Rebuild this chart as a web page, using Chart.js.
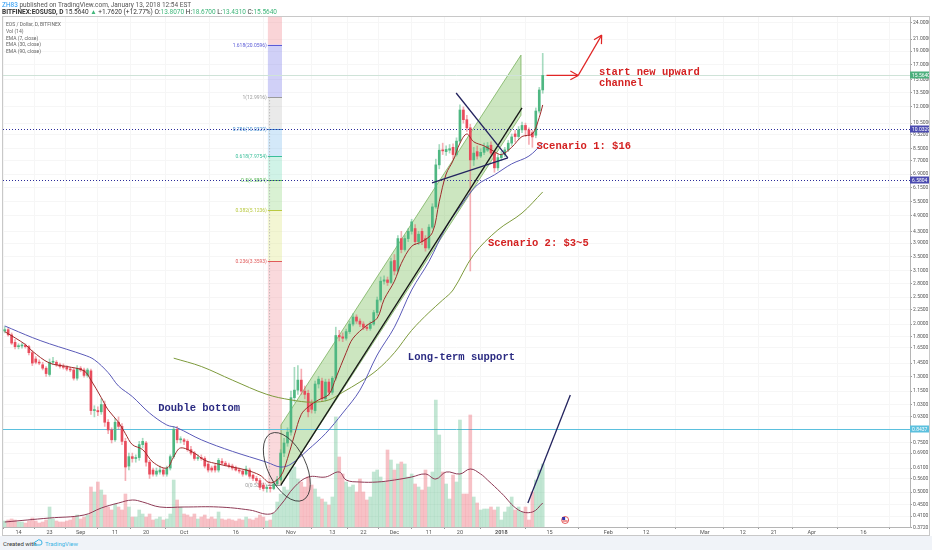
<!DOCTYPE html>
<html>
<head>
<meta charset="utf-8">
<title>EOS / Dollar</title>
<script src="https://cdn.jsdelivr.net/npm/chart.js@4.4.1/dist/chart.umd.min.js"></script>
<style>
  body { margin: 0; background: #fff; }
  #wrap { position: relative; width: 932px; height: 550px; overflow: hidden; font-family: Roboto, "Open Sans", Arial, sans-serif; }
  #myChart { position: absolute; left: 0; top: 0; }
  .t { position: absolute; white-space: nowrap; }
  #pub { left: 2px; top: 1px; font-size: 6.5px; color: #555; }
  #pub span { color: #2196f3; }
  #sym { left: 2px; top: 8px; font-size: 6.5px; color: #333; }
  #sym .g { color: #3fb67a; }
  #legend { left: 6px; top: 21px; font-size: 5px; line-height: 6.8px; color: #666; }
  #foot { left: 0; top: 536px; width: 932px; height: 14px; background: #f0f3f8; }
  #foot .a { position: absolute; left: 3px; top: 4px; font-size: 6px; color: #333; }
  #foot .b { position: absolute; left: 45px; top: 4px; font-size: 6px; color: #3bb3e4; }
  #foot svg { position: absolute; left: 33px; top: 3px; }
</style>
</head>
<body>
<div id="wrap">
  <canvas id="myChart" width="932" height="550"></canvas>
  <div class="t" id="pub"><span>ZH83</span> published on TradingView.com, January 13, 2018 12:54 EST</div>
  <div class="t" id="sym"><b>BITFINEX:EOSUSD, D</b> 15.5640 <span class="g">&#9650;</span> +1.7620 (+12.77%) O:<span class="g">13.8070</span> H:<span class="g">18.6700</span> L:<span class="g">13.4310</span> C:<span class="g">15.5640</span></div>
  <div class="t" id="legend">EOS / Dollar, D, BITFINEX<br>Vol (14)<br>EMA (7, close)<br>EMA (30, close)<br>EMA (90, close)</div>
  <div class="t" id="foot">
    <span class="a">Created with</span>
    <svg width="10" height="8" viewBox="0 0 10 8"><path d="M1 6 Q1 2 4 2 Q5 0 7 1 Q9 1 9 4 Q9 6 7 6 Z" fill="none" stroke="#3bb3e4" stroke-width="1"/></svg>
    <span class="b">TradingView</span>
  </div>
</div>
<script>
//datos de velas (diario, desde 2017-08-10)
const opens = [
  1.89,1.91,1.83,1.72,1.66,1.67,1.68,1.66,1.58,1.50,
  1.46,1.43,1.39,1.32,1.46,1.46,1.43,1.41,1.40,1.38,
  1.37,1.28,1.39,1.37,1.31,1.36,0.98,0.98,0.97,1.03,
  0.89,0.835,0.77,0.89,0.86,0.76,0.62,0.67,0.66,0.665,
  0.74,0.75,0.64,0.60,0.58,0.59,0.60,0.58,0.61,0.67,
  0.84,0.77,0.77,0.76,0.71,0.69,0.66,0.665,0.66,0.63,
  0.61,0.62,0.60,0.645,0.635,0.625,0.62,0.61,0.60,0.595,
  0.58,0.60,0.575,0.56,0.55,0.53,0.515,0.52,0.515,0.535,
  0.555,0.69,0.75,0.82,1.09,1.16,1.26,1.15,1.13,1.04,
  0.98,1.22,1.25,1.08,1.24,1.14,1.28,1.82,1.80,1.78,
  1.88,2.00,2.12,2.05,2.00,1.95,1.93,2.00,2.20,2.44,
  2.85,2.88,2.82,3.38,3.10,4.05,3.70,4.05,4.30,4.40,
  3.95,4.30,4.05,3.75,4.45,5.26,7.44,8.40,8.30,8.40,
  8.60,8.10,9.05,11.70,10.80,10.10,7.75,8.30,8.00,8.25,
  8.40,8.75,8.22,7.26,7.90,8.10,8.42,8.90,9.60,9.40,
  9.93,10.30,9.93,9.70,9.50,11.60,13.807
];
const highs = [
  1.96,1.94,1.86,1.76,1.70,1.71,1.70,1.68,1.61,1.53,
  1.49,1.46,1.41,1.50,1.52,1.48,1.45,1.44,1.42,1.40,
  1.39,1.42,1.41,1.39,1.39,1.38,1.02,1.01,1.08,1.06,
  0.91,0.85,0.92,0.93,0.88,0.78,0.69,0.69,0.68,0.76,
  0.78,0.76,0.65,0.61,0.61,0.62,0.61,0.62,0.68,0.86,
  0.86,0.79,0.78,0.77,0.73,0.70,0.68,0.68,0.67,0.64,
  0.62,0.63,0.66,0.66,0.645,0.635,0.63,0.62,0.61,0.60,
  0.62,0.61,0.58,0.57,0.56,0.54,0.53,0.53,0.545,0.57,
  0.71,0.78,0.85,1.15,1.40,1.42,1.38,1.20,1.16,1.07,
  1.25,1.30,1.28,1.27,1.27,1.30,1.95,1.90,1.86,1.92,
  2.05,2.18,2.16,2.09,2.04,1.99,2.04,2.24,2.50,2.95,
  2.98,2.95,3.45,3.55,4.15,4.30,4.15,4.40,4.75,4.55,
  4.30,4.40,4.15,4.55,5.40,7.80,8.80,8.90,8.70,8.80,
  8.85,9.30,12.20,12.00,11.20,10.40,8.60,8.70,8.50,8.90,
  8.95,9.00,8.40,8.10,8.30,8.60,9.10,9.60,9.90,10.20,
  10.60,10.50,10.10,9.90,11.90,14.10,18.67
];
const lows = [
  1.86,1.81,1.69,1.63,1.63,1.64,1.64,1.55,1.42,1.44,
  1.43,1.37,1.30,1.30,1.43,1.41,1.39,1.38,1.36,1.35,
  1.26,1.26,1.35,1.29,1.29,0.95,0.93,0.94,0.95,0.86,
  0.81,0.75,0.76,0.84,0.74,0.55,0.60,0.64,0.64,0.65,
  0.72,0.62,0.56,0.57,0.57,0.58,0.57,0.57,0.60,0.66,
  0.75,0.75,0.74,0.70,0.68,0.65,0.65,0.65,0.61,0.59,
  0.59,0.59,0.59,0.63,0.62,0.61,0.60,0.595,0.585,0.57,
  0.575,0.56,0.55,0.54,0.51,0.505,0.50,0.50,0.51,0.53,
  0.55,0.67,0.73,0.80,1.05,1.12,1.12,1.08,0.93,0.96,
  0.96,1.18,1.06,1.06,1.11,1.12,1.26,1.74,1.73,1.75,
  1.85,1.97,2.01,1.96,1.91,1.90,1.90,1.98,2.15,2.40,
  2.78,2.75,2.80,3.00,3.05,3.60,3.65,3.95,4.20,3.85,
  3.85,3.85,3.65,3.70,4.40,5.20,7.20,8.10,8.05,8.20,
  7.80,8.00,8.90,10.50,9.80,3.10,7.40,7.80,7.90,8.10,
  8.30,8.10,7.00,7.10,7.70,7.95,8.30,8.70,9.00,9.20,
  9.70,9.40,8.80,8.60,9.30,11.40,13.431
];
const closes = [
  1.91,1.83,1.71,1.66,1.67,1.68,1.66,1.58,1.45,1.46,
  1.45,1.39,1.33,1.46,1.47,1.43,1.41,1.40,1.38,1.37,
  1.28,1.39,1.37,1.31,1.37,0.98,0.98,0.97,1.03,0.89,
  0.835,0.77,0.89,0.86,0.76,0.615,0.67,0.66,0.665,0.74,
  0.76,0.64,0.58,0.58,0.595,0.60,0.58,0.61,0.67,0.84,
  0.77,0.77,0.76,0.71,0.69,0.66,0.665,0.66,0.62,0.60,
  0.60,0.60,0.65,0.635,0.625,0.62,0.61,0.60,0.595,0.58,
  0.605,0.57,0.56,0.55,0.52,0.515,0.52,0.515,0.535,0.555,
  0.69,0.75,0.82,1.09,1.16,1.26,1.15,1.12,0.97,0.99,
  1.22,1.27,1.08,1.24,1.14,1.28,1.82,1.80,1.78,1.88,
  2.00,2.12,2.05,2.00,1.95,1.93,2.00,2.20,2.44,2.85,
  2.88,2.82,3.35,3.10,4.05,3.70,4.05,4.30,4.65,3.95,
  4.20,3.95,3.75,4.45,5.26,7.44,8.40,8.35,8.45,8.50,
  8.10,9.05,11.70,10.80,10.10,7.75,8.20,8.00,8.25,8.60,
  8.70,8.20,7.26,7.90,8.10,8.42,8.90,9.37,9.40,9.93,
  10.30,9.93,9.53,9.37,11.60,13.802,15.564
];
//volumen (100k EOS)
const volumes = [
  6,7,8,7,5,5,4,6,9,6,
  4,5,7,20,8,6,5,5,6,7,
  10,12,8,10,12,40,35,45,37,32,
  20,17,23,20,17,33,20,10,10,17,
  13,10,13,7,8,10,7,8,13,47,
  27,20,13,12,10,13,8,10,12,8,
  10,8,15,8,7,8,7,6,8,7,
  10,8,7,9,12,10,6,7,14,25,
  33,40,37,57,60,48,45,40,50,42,
  38,30,28,25,22,30,110,70,53,45,
  40,42,35,48,35,27,30,55,57,50,
  45,77,67,57,63,65,63,50,53,43,
  40,37,57,40,55,127,92,55,43,28,
  52,45,107,33,33,112,30,24,17,18,
  18,20,17,20,7,15,20,30,17,20,
  15,20,7,35,47,57,63
];
//indicadores (dia, valor)
const ema7Days = [0,6,8,13,18,23,25,28,30,33,35,37,40,43,47,49,51,55,58,62,66,70,74,77,80,82,84,86,88,91,94,96,99,101,105,108,110,113,115,118,121,124,126,128,130,132,134,136,139,142,144,147,150,153,155,156];
const ema7Vals = [1.88,1.69,1.60,1.45,1.41,1.36,1.26,1.09,0.985,0.89,0.81,0.74,0.71,0.64,0.61,0.67,0.72,0.69,0.65,0.63,0.615,0.60,0.575,0.54,0.57,0.66,0.80,0.95,1.01,1.07,1.12,1.28,1.58,1.78,1.98,2.10,2.45,2.85,3.30,3.80,3.95,4.25,5.50,6.90,7.70,8.90,9.60,9.00,8.70,8.30,8.10,8.60,9.40,9.60,11.00,12.20];
const ema30Days = [0,8,13,23,26,30,33,37,42,47,50,57,66,76,80,83,88,93,98,103,108,113,118,123,128,132,137,142,147,152,156];
const ema30Vals = [1.97,1.79,1.70,1.55,1.49,1.34,1.20,1.10,0.96,0.87,0.85,0.77,0.70,0.64,0.615,0.63,0.71,0.81,0.96,1.16,1.55,1.95,2.65,3.35,4.45,5.26,6.30,6.85,7.50,8.00,8.90];
const ema90Days = [49,57,66,76,83,89,94,98,103,108,113,118,123,127,130,136,143,150,156];
const ema90Vals = [1.51,1.41,1.26,1.12,1.07,1.05,1.07,1.14,1.24,1.37,1.58,1.90,2.20,2.44,2.65,3.55,4.35,5.00,5.95];
const volMaDays = [0,13,23,28,33,37,40,45,52,62,71,77,80,84,88,93,97,99,103,108,113,118,122,125,128,132,135,138,140,144,149,153,156];
const volMaVals = [5,9,12,19,24,27,25,20,20,20,17,13,22,40,50,50,55,47,45,45,47,50,53,48,55,53,58,53,47,34,17,15,24];

//ejes
const priceTicks = [24,21,19,17,15,13.5,12,10.5,9.52,8.5,7.7,6.9,6.15,5.5,4.9,4.3,3.9,3.5,3.1,2.8,2.5,2.25,2.0,1.8,1.65,1.45,1.3,1.15,1.03,0.93,0.75,0.69,0.61,0.56,0.5,0.45,0.41,0.372];
const tickDates = ['2017-08-14','2017-08-23','2017-09-01','2017-09-11','2017-09-20','2017-10-01','2017-10-16','2017-11-01','2017-11-13','2017-11-22','2017-12-01','2017-12-11','2017-12-20','2018-01-01','2018-01-15','2018-02-01','2018-02-12','2018-03-01','2018-03-12','2018-03-21','2018-04-01','2018-04-16'];
const tickNames = ['14','23','Sep','11','20','Oct','16','Nov','13','22','Dec','11','20','2018','15','Feb','12','Mar','12','21','Apr','16'];

//fibonacci
const fibNames = ['1.618','1','0.786','0.618','0.5','0.382','0.236','0'];
const fibPrices = [20.0596,12.9916,10.0329,7.9754,6.5804,5.1236,3.3593,0.5301];
const fibLine = ['#5b5bd6','#9a9a9a','#4a90d0','#3bbf9a','#5cb85c','#b9c940','#e05a5a','#9a9a9a'];
const fibFill = ['rgba(240,120,130,0.32)','rgba(110,110,230,0.32)','rgba(170,170,170,0.25)','rgba(110,180,235,0.3)','rgba(100,215,175,0.3)','rgba(130,210,110,0.3)','rgba(215,225,110,0.3)','rgba(240,130,140,0.3)'];

const labels = [];
const day0 = Date.UTC(2017, 7, 10);
for (let i = 0; i < 263; i++) labels.push(new Date(day0 + i * 86400000).toISOString().slice(0, 10));
const tickIdx = tickDates.map(d => labels.indexOf(d));

const red = '#d42222', navy = '#2b2b82';
const isUp = closes.map((c, i) => c >= opens[i]);
const pts = (days, vals) => days.map((d, i) => ({ x: labels[d], y: vals[i] }));

const line = (c, x1, y1, x2, y2) => { c.beginPath(); c.moveTo(x1, y1); c.lineTo(x2, y2); c.stroke(); };
const head = (c, x1, y1, x2, y2, len) => {
  const a = Math.atan2(y2 - y1, x2 - x1);
  line(c, x2, y2, x2 - len * Math.cos(a - 0.5), y2 - len * Math.sin(a - 0.5));
  line(c, x2, y2, x2 - len * Math.cos(a + 0.5), y2 - len * Math.sin(a + 0.5));
};

const overlay = {
  id: 'overlay',
  beforeDatasetsDraw(chart) {
    const { ctx: c, chartArea: a, scales: { x, y } } = chart;
    c.save();
    c.beginPath(); c.rect(a.left, a.top, a.width, a.height); c.clip();
    //banda fib
    const f1 = x.getPixelForValue(76.3), f2 = x.getPixelForValue(80.4);
    let prev = a.top;
    fibPrices.forEach((p, i) => {
      const yy = y.getPixelForValue(p);
      c.fillStyle = fibFill[i];
      c.fillRect(f1, prev, f2 - f1, yy - prev);
      prev = yy;
    });
    c.font = '5px Roboto';
    c.textAlign = 'right'; c.textBaseline = 'middle';
    fibPrices.forEach((p, i) => {
      const yy = Math.round(y.getPixelForValue(p)) + 0.5;
      c.strokeStyle = fibLine[i]; c.lineWidth = 1;
      line(c, f1, yy, f2, yy);
      c.fillStyle = fibLine[i];
      c.fillText(fibNames[i] + '(' + p.toFixed(4) + ')', f1 - 1, yy);
    });
    c.strokeStyle = '#aaa'; c.setLineDash([1, 2]);
    const fx = x.getPixelForValue(76.8);
    line(c, fx, y.getPixelForValue(fibPrices[1]), fx, y.getPixelForValue(fibPrices[7]));
    c.setLineDash([]);
    //canal
    const cx1 = x.getPixelForValue(80.1), cx2 = x.getPixelForValue(149.7);
    c.beginPath();
    c.moveTo(cx1, y.getPixelForValue(0.870));
    c.lineTo(cx2, y.getPixelForValue(18.4));
    c.lineTo(cx2, y.getPixelForValue(11.2));
    c.lineTo(cx1, y.getPixelForValue(0.531));
    c.closePath();
    c.fillStyle = 'rgba(120,190,90,0.38)'; c.fill();
    c.strokeStyle = 'rgba(110,170,80,0.7)'; c.lineWidth = 1; c.stroke();
    //lineas horizontales
    const hl = (p, col, dash) => {
      const yy = Math.round(y.getPixelForValue(p)) + 0.5;
      c.strokeStyle = col; c.setLineDash(dash); line(c, a.left, yy, a.right, yy); c.setLineDash([]);
    };
    hl(15.564, '#cfe3d8', []);
    hl(10.0329, '#2b2b9a', [1, 2]);
    hl(6.5804, '#2b2b9a', [1, 2]);
    hl(0.8437, '#5bc0de', []);
    c.restore();
  },
  afterDatasetsDraw(chart) {
    const { ctx: c, chartArea: a, scales: { x, y, yv } } = chart;
    const X = d => x.getPixelForValue(d), Y = p => y.getPixelForValue(p);
    c.save();
    c.beginPath(); c.rect(a.left, a.top, a.width, a.height); c.clip();
    c.lineWidth = 1.3;
    c.strokeStyle = '#151515';
    line(c, X(80.1), Y(0.531), X(150), Y(11.9));
    c.strokeStyle = '#23235e';
    line(c, X(130.9), Y(13.46), X(145.9), Y(7.88));
    line(c, X(123.9), Y(6.41), X(145.9), Y(7.88));
    line(c, X(151.7), yv.getPixelForValue(24), X(164), yv.getPixelForValue(132));
    //elipse doble suelo
    c.lineWidth = 0.9; c.strokeStyle = '#333';
    c.beginPath();
    c.ellipse(X(81.8), Y(0.616), 19, 37, -0.45, 0, Math.PI * 2);
    c.stroke();
    //flechas
    c.strokeStyle = '#e02525'; c.lineWidth = 1.2;
    const ax0 = X(157.1), ax1 = X(166.3), ay = Y(15.564), ax2 = X(173.1), ay2 = Y(21.7);
    line(c, ax0, ay, ax1, ay); head(c, ax0, ay, ax1, ay, 9);
    line(c, ax1, ay, ax2, ay2); head(c, ax1, ay, ax2, ay2, 9);
    //textos
    c.font = 'bold 10.5px "Liberation Mono"';
    c.textAlign = 'left'; c.textBaseline = 'middle';
    const txt = (s, d, p, col) => { c.fillStyle = col; c.fillText(s, X(d), Y(p)); };
    txt('start new upward', 172.3, 15.97, red);
    txt('channel', 172.3, 14.6, red);
    txt('Scenario 1: $16', 154.2, 8.64, red);
    txt('Scenario 2: $3~5', 140.1, 3.90, red);
    txt('Long-term support', 116.9, 1.52, navy);
    txt('Double bottom', 44.5, 1.0, navy);
    c.restore();
  },
  afterDraw(chart) {
    const { ctx: c, chartArea: a, scales: { x, y } } = chart;
    c.save();
    const tag = (p, s, bg) => {
      const yy = Math.round(y.getPixelForValue(p));
      c.fillStyle = bg; c.fillRect(a.right, yy - 3.5, 19, 7);
      c.fillStyle = '#fff'; c.font = '5px Roboto'; c.textBaseline = 'middle'; c.textAlign = 'left';
      c.fillText(s, a.right + 2, yy + 0.5);
    };
    tag(15.564, '15.5640', '#4caf7d');
    tag(10.0329, '10.0329', '#4b4bb0');
    tag(6.5804, '6.5804', '#4b4bb0');
    tag(0.8437, '0.8437', '#5bc0de');
    //icono evento
    const ix = x.getPixelForValue(162.5), iy = a.bottom - 7;
    c.beginPath(); c.arc(ix, iy, 3.5, 0, Math.PI * 2); c.fillStyle = '#fff'; c.fill();
    c.strokeStyle = '#d33'; c.lineWidth = 0.8; c.stroke();
    c.fillStyle = '#33a'; c.fillRect(ix - 3, iy - 3, 3, 3);
    c.fillStyle = '#d33'; c.fillRect(ix - 2.5, iy + 0.5, 5, 1);
    //marco
    c.strokeStyle = '#c8c8c8'; c.lineWidth = 1;
    c.strokeRect(2.5, 16.5, 927, 519);
    c.restore();
  }
};

const ctx = document.getElementById('myChart');
new Chart(ctx, {
  type: 'bar',
  data: {
    labels,
    datasets: [
      { type: 'line', label: 'EMA 7', data: pts(ema7Days, ema7Vals), borderColor: '#9e2a2a', borderWidth: 1, pointRadius: 0, tension: 0.35, order: 0 },
      { type: 'line', label: 'EMA 30', data: pts(ema30Days, ema30Vals), borderColor: '#5a5ab8', borderWidth: 1, pointRadius: 0, tension: 0.35, order: 0 },
      { type: 'line', label: 'EMA 90', data: pts(ema90Days, ema90Vals), borderColor: '#7d9a3c', borderWidth: 1, pointRadius: 0, tension: 0.35, order: 0 },
      { type: 'bar', label: 'body', data: opens.map((o, i) => [o, closes[i]]), backgroundColor: isUp.map(u => u ? '#4fb782' : '#e84c5c'), barThickness: 2, minBarLength: 1, grouped: false, order: 2 },
      { type: 'bar', label: 'wick', data: lows.map((l, i) => [l, highs[i]]), backgroundColor: isUp.map(u => u ? 'rgba(79,183,130,0.5)' : 'rgba(232,76,92,0.45)'), barThickness: 1, grouped: false, order: 3 },
      { type: 'line', label: 'Vol MA', yAxisID: 'yv', data: pts(volMaDays, volMaVals), borderColor: '#8e3a55', borderWidth: 1, pointRadius: 0, tension: 0.4, order: 4 },
      { type: 'bar', label: 'Vol', yAxisID: 'yv', data: volumes, backgroundColor: isUp.map(u => u ? 'rgba(79,183,130,0.35)' : 'rgba(232,76,92,0.35)'), barThickness: 3, grouped: false, order: 6 }
    ]
  },
  options: {
    responsive: false,
    animation: false,
    layout: { padding: { left: 3, top: 17, right: 2, bottom: 15 } },
    plugins: { legend: { display: false }, tooltip: { enabled: false } },
    scales: {
      x: {
        offset: true,
        grid: { color: '#f6f6f6', tickLength: 2, tickColor: '#999' },
        border: { color: '#b5b5b5' },
        ticks: {
          autoSkip: false, maxRotation: 0, padding: 0, color: '#555',
          font: ctx => ({ family: 'Roboto', size: 5.5, weight: ctx.tick && ctx.tick.label === '2018' ? 'bold' : 'normal' }),
          callback: (v, i) => tickNames[i]
        },
        afterBuildTicks: axis => { axis.ticks = tickIdx.map(v => ({ value: v })); },
        afterFit: axis => { axis.height = 8; }
      },
      y: {
        type: 'logarithmic',
        position: 'right',
        min: 0.375,
        max: 25.2,
        grid: { color: '#f6f6f6', tickLength: 2, tickColor: '#999' },
        border: { color: '#b5b5b5' },
        ticks: { autoSkip: false, padding: 1, color: '#555', font: { family: 'Roboto', size: 5 }, callback: v => Number(v).toFixed(4) },
        afterBuildTicks: axis => { axis.ticks = priceTicks.map(v => ({ value: v })); },
        afterFit: axis => { axis.width = 20; }
      },
      yv: { display: false, min: 0, max: 510 }
    }
  },
  plugins: [overlay]
});
</script>
</body>
